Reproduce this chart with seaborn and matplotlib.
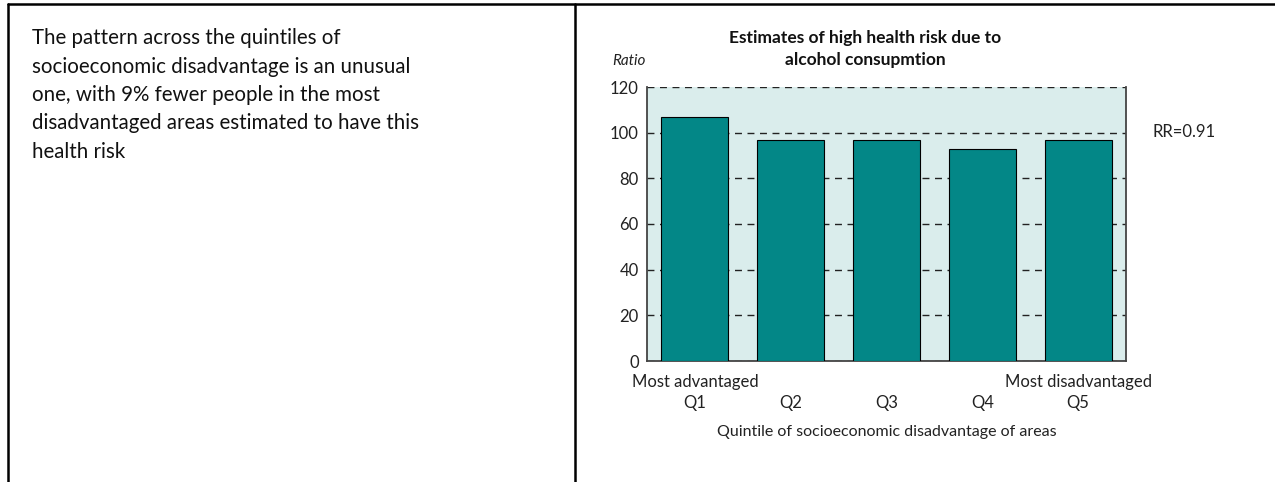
import matplotlib
matplotlib.use("Agg")
import matplotlib.pyplot as plt
import seaborn as sns
import pandas as pd
from matplotlib.lines import Line2D

quintiles = ["Q1", "Q2", "Q3", "Q4", "Q5"]
tick_labels = ["Most advantaged\nQ1", "\nQ2", "\nQ3", "\nQ4", "Most disadvantaged\nQ5"]
ratios = [107, 97, 97, 93, 97]
yticks = [0, 20, 40, 60, 80, 100, 120]
title = "Estimates of high health risk due to\nalcohol consupmtion"
xlabel = "Quintile of socioeconomic disadvantage of areas"
rr_label = "RR=0.91"
body_text = ("The pattern across the quintiles of\n"
             "socioeconomic disadvantage is an unusual\n"
             "one, with 9% fewer people in the most\n"
             "disadvantaged areas estimated to have this\n"
             "health risk")

sns.set_theme(style="white")
plt.rcParams['font.family'] = ['Lato', 'DejaVu Sans']

df = pd.DataFrame({"quintile": quintiles, "ratio": ratios})

fig = plt.figure(figsize=(12.75, 4.82), dpi=100)
ax = fig.add_axes([647/1275, 1-361/482, (1126-647)/1275, (361-87)/482])

sns.barplot(data=df, x="quintile", y="ratio", ax=ax, color="#038787",
            saturation=1, width=0.7, edgecolor="black", linewidth=0.8, zorder=3)

ax.set_facecolor("#DAEDEC")
ax.set_ylim(0, 120)
ax.set_xlim(-0.5, 4.5)
ax.set_yticks(yticks)
ax.set_yticklabels([str(v) for v in yticks], fontsize=12, color="#222222")
ax.set_xticks(range(len(quintiles)))
ax.set_xticklabels(tick_labels, fontsize=12, color="#222222", linespacing=1.45)
ax.tick_params(axis="x", length=0, pad=9)
ax.tick_params(axis="y", length=0, pad=6)
ax.yaxis.grid(True, linestyle=(0, (5, 4)), color="#222222", linewidth=1.0, zorder=0)
ax.set_axisbelow(True)
for s in ["left", "right", "bottom"]:
    ax.spines[s].set_visible(True)
    ax.spines[s].set_color("#444444")
    ax.spines[s].set_linewidth(1.3)
ax.spines["top"].set_visible(False)
ax.set_xlabel(xlabel, fontsize=11.5, color="#222222", labelpad=10)
ax.set_ylabel("")

fig.text(865/1275, 1-49/482, title, ha="center", va="center", fontsize=12.5,
         fontweight="bold", color="#111111", linespacing=1.5)
fig.text(612/1275, 1-61/482, "Ratio", ha="left", va="center", fontsize=11,
         style="italic", color="#222222")
fig.text(1153/1275, 1-132/482, rr_label, ha="left", va="center", fontsize=12,
         color="#222222")

fig.text(32/1275, 1-95/482, body_text, ha="left", va="center", fontsize=14.8,
         color="#111111", linespacing=1.52)

# frame lines of the panel layout
fig.add_artist(Line2D([8/1275, 1.0], [1-3.5/482, 1-3.5/482], color="black", linewidth=1.8,
                      transform=fig.transFigure))
fig.add_artist(Line2D([8/1275, 8/1275], [0, 1-3.5/482], color="black", linewidth=1.8,
                      transform=fig.transFigure))
fig.add_artist(Line2D([575/1275, 575/1275], [0, 1-3.5/482], color="black", linewidth=1.8,
                      transform=fig.transFigure))

fig.savefig("out.png", dpi=100, facecolor="white")
